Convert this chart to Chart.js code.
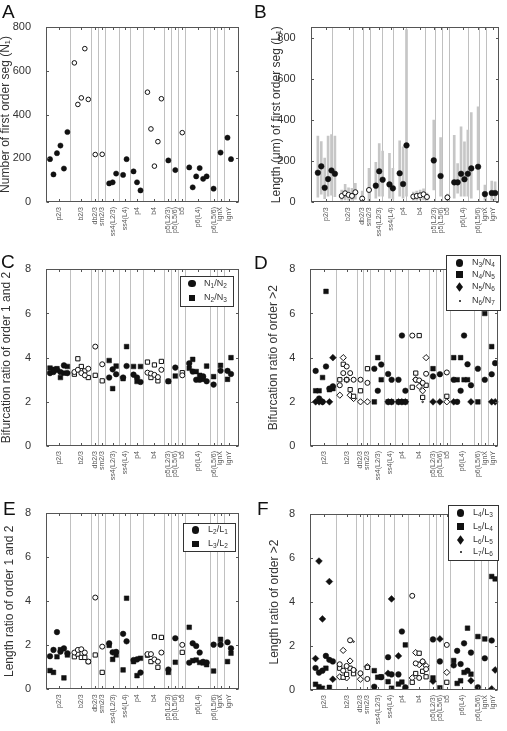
<!DOCTYPE html>
<html>
<head>
<meta charset="utf-8">
<script src="https://cdn.jsdelivr.net/npm/chart.js@4.4.1/dist/chart.umd.min.js"></script>
<style>
  body { margin: 0; background: #fff; width: 507px; height: 731px; position: relative; overflow: hidden;
         font-family: 'Liberation Sans', Arial, sans-serif; }
  .pane { position: absolute; }
  .letter { position: absolute; font-size: 19px; line-height: 19px; color: #111; will-change: transform; }
  .legend { position: absolute; border: 1px solid #333; background: #fff; box-sizing: border-box; }
  .mk { position: absolute; background: #111; }
  .lt { position: absolute; font-size: 9px; line-height: 10px; color: #333; white-space: nowrap;
        will-change: transform; }
  .lt sub { font-size: 6.5px; vertical-align: -2px; line-height: 0; }
</style>
</head>
<body>
<script>
const FONT = "'Liberation Sans', Arial, sans-serif";

// cell groups along the x axis
const groupLabels = ['p2/3', 'b2/3', 'db2/3', 'sm2/3', 'ss4(L2/3)', 'ss4(L4)', 'p4', 'b4',
                     'p5(L2/3)', 'p5(L5/6)', 'b5', 'p6(L4)', 'p6(L5/6)', 'lgnX', 'lgnY'];
const groupCenters = [3.5, 10, 14, 16, 19, 22.5, 26, 31, 35, 37, 39, 43.5, 48, 50, 52.5];
const separators = [7, 13, 15, 17, 21, 24, 28, 34, 36, 38, 40, 47, 49, 51];

// one entry per cell
const cellX = [1,2,3,4,5,6, 8,9,10,11,12, 14, 16, 18,19,20, 22,23, 25,26,27, 29,30,31,32,33,
               35, 37, 39, 41,42,43,44,45,46, 48, 50, 52,53];
const openCell = [0,0,0,0,0,0, 1,1,1,1,1, 1, 1, 0,0,0, 0,0, 0,0,0, 1,1,1,1,1,
                  0, 0, 1, 0,0,0,0,0,0, 0, 0, 0,0];

// A
const nFirst = [196,126,223,258,153,320, 636,446,476,701,469, 217, 218, 85,90,130, 124,196, 140,90,53,
                502,334,164,276,472, 190, 146, 317, 158,67,117,155,106,117, 61, 226, 294,196];
// B
const lFirst = [144,175,71,113,155,139, 31,44,36,31,49, 18, 60, 81,151,110, 87,68, 141,89,277,
                28,31,34,39,26, 204, 128, 24, 97,97,139,112,139,165, 173, 40, 45,45];
const lFirstLo = [25,40,18,30,35,28, 10,12,10,10,15, 5, 5, 20,30,30, 20,15, 30,20,30,
                  10,10,12,12,10, 60, 30, 8, 20,45,30,30,30,20, 60, 10, 10,10];
const lFirstHi = [322,295,215,322,330,322, 60,88,70,68,92, 55, 165, 194,286,249, 238,165, 299,270,840,
                  50,55,60,65,45, 400, 315, 40, 326,189,367,294,351,437, 464, 84, 103,100];
// C
const bifN1N2 = [3.3,3.35,3.45,3.35,3.65,3.3, 3.35,3.45,3.3,3.2,3.5, 4.5, 3.7, 3.1,3.47,3.25, 3.1,3.62,
                 3.23,3.1,2.9, 3.32,3.28,3.22,3.12,3.45, 2.93, 3.55, 3.2, 3.74,3.37,3.0,3.0,3.15,2.93,
                 2.78, 3.41, 3.4,3.26];
const bifN2N3 = [3.53,3.47,3.5,3.1,3.3,3.6, 3.25,3.95,3.6,3.4,3.1, 3.2, 2.95, 3.87,2.6,3.62, 3.05,4.5,
                 3.6,2.92,3.6, 3.8,3.1,3.67,2.95,3.83, 2.93, 3.17, 3.32, 3.52,3.92,3.37,3.2,3.02,3.62,
                 3.14, 3.65, 3.02,4.0];
// D
const bifN3N4 = [3.4,2.15,2.0,3.6,2.6,2.7, 2.75,3.3,3.6,3.3,3.0, 3.0, 2.86, 3.5,2.5,3.69, 3.26,3.0,
                 3.0,5.0,2.5, 5.0,3.0,2.97,2.86,3.27, 3.15, 3.25, 3.33, 3.0,2.0,2.5,5.0,3.7,2.75,
                 3.5, 3.0, 3.25,3.75];
const bifN4N5 = [2.5,2.5,3.1,7.0,2.55,2.6, 3.0,3.7,3.0,2.55,2.25, 2.5, 3.5, 2.0,4.0,3.0, 2.0,2.0,
                 2.0,2.0,2.0, 2.66,3.3,5.0,2.2,2.75, 3.5, null, 2.25, 4.0,3.0,4.0,3.0,3.0,null,
                 2.0, 6.0, 4.5,null];
const bifN5N6 = [2,2,2,null,2,4, 2.3,4.0,3.0,2.3,2.15, 2, 2, null,null,null, 2,2,
                 2,2,2, null,3.0,2.7,2.5,4.0, 2, 2, 2, 2,null,null,null,null,2,
                 null, null, 2,2];
const bifN6N7 = [2,null,2,null,null,null, null,null,null,null,null, null, null, null,null,null, null,null,
                 null,null,null, null,null,null,2.0,null, null, null, null, null,null,null,null,null,null,
                 null, null, null,null];
// E
const lenL2L1 = [1.5,1.79,2.6,1.71,1.86,1.64, 1.67,1.79,1.82,1.67,1.26, 4.17, 1.94, 2.09,1.68,1.7, 2.52,2.18,
                 1.33,1.36,0.76, 1.6,1.6,1.36,1.26,1.67, 0.9, 2.32, 2.02, 1.21,2.09,1.97,1.67,1.25,1.22,
                 2.03, 2.03, 2.14,1.86];
const lenL3L2 = [0.85,0.77,1.48,1.8,0.52,1.56, 1.48,1.6,1.45,1.45,1.26, 1.56, 0.77, 2.0,1.36,1.56, 0.88,4.14,
                 1.26,0.62,1.41, 1.55,1.26,2.39,1.0,2.36, 0.77, 1.23, 1.68, 2.82,1.3,1.33,1.22,1.2,1.12,
                 0.83, 2.27, 1.26,1.64];
// F
const lenL4L3 = [1.0,0.79,0.88,1.55,1.37,1.3, 1.17,0.88,1.09,2.26,0.91, 0.76, 0.5, 0.15,null,0.58, 1.49,0.71,
                 0.71,2.66,0.12, 4.28,1.21,0.55,1.3,0.95, 2.3, 1.3, 2.05, 1.12,1.78,1.18,2.12,0.88,1.7,
                 0.12, 1.44, 2.25,null];
const lenL5L4 = [0.26,0.15,0.08,0.99,0.12,null, 0.99,0.58,0.71,0.99,0.74, null, 1.03, 0.88,0.58,0.6, 0.38,0.08,
                 0.27,0.36,2.05, 0.35,0.75,1.67,0.85,0.6, 0.55, 0.1, 0.35, 1.34,0.3,0.42,0.8,2.81,0.72,
                 2.43, 2.32, 5.16,5.05];
const lenL6L5 = [1.43,5.86,3.23,null,4.93,0.49, 0.6,1.8,0.55,1.32,0.9, 0.49, 1.06, null,null,null, 0.76,4.14,
                 1.55,null,null, 0.55,1.7,1.15,1.28,1.1, 0.4, 2.32, 0.8, null,null,null,null,null,0.42,
                 null, null, 0.05,0.91];
const lenL7L6 = [null,null,null,null,null,null, null,null,null,null,2.2, null, null, null,null,null, null,null,
                 null,null,null, null,null,null,null,null, null, null, null, null,null,null,null,null,null,
                 null, null, null,null];

function split(values, open) {
  const out = [];
  cellX.forEach((x, i) => {
    if (values[i] !== null && !!openCell[i] === open) out.push({x: x, y: values[i]});
  });
  return out;
}

function pointSets(values, style, r) {
  return [
    {data: split(values, false), pointStyle: style, pointRadius: r, pointBackgroundColor: '#111',
     pointBorderColor: '#111', pointBorderWidth: 0.5, order: 0},
    {data: split(values, true), pointStyle: style, pointRadius: r - 0.3, pointBackgroundColor: '#fff',
     pointBorderColor: '#111', pointBorderWidth: 1, order: 0}
  ];
}

// box around the plot with small inward ticks
const boxPlugin = {
  id: 'box',
  afterDraw(chart) {
    const {ctx, chartArea: a, scales} = chart;
    const l = Math.round(a.left) + 0.5, r = Math.round(a.right) - 0.5;
    const t = Math.round(a.top) + 0.5, b = Math.round(a.bottom) - 0.5;
    ctx.save();
    ctx.strokeStyle = '#555';
    ctx.lineWidth = 1;
    ctx.strokeRect(l, t, r - l, b - t);
    ctx.beginPath();
    scales.y.ticks.forEach(tk => {
      const py = Math.round(scales.y.getPixelForValue(tk.value)) + 0.5;
      ctx.moveTo(l, py); ctx.lineTo(l + 2.5, py);
      ctx.moveTo(r, py); ctx.lineTo(r - 2.5, py);
    });
    groupCenters.forEach(v => {
      const px = Math.round(scales.x.getPixelForValue(v)) + 0.5;
      ctx.moveTo(px, b); ctx.lineTo(px, b - 2.5);
      ctx.moveTo(px, t); ctx.lineTo(px, t + 2.5);
    });
    ctx.stroke();
    ctx.restore();
  }
};

const xTickValues = separators.concat(groupCenters).sort((a, b) => a - b);
const TITLE_SIZE = 12;

function makePanel(p) {
  const wrap = document.createElement('div');
  wrap.className = 'pane';
  wrap.style.left = p.left + 'px';
  wrap.style.top = p.top + 'px';
  const canvas = document.createElement('canvas');
  canvas.width = p.w; canvas.height = p.h;
  canvas.style.width = p.w + 'px'; canvas.style.height = p.h + 'px';
  wrap.appendChild(canvas);
  document.body.appendChild(wrap);

  new Chart(canvas, {
    type: 'scatter',
    data: {datasets: p.sets},
    options: {
      responsive: false,
      animation: false,
      layout: {padding: {left: 0, top: p.area[1] - p.top, right: p.left + p.w - p.area[2], bottom: 0}},
      plugins: {legend: {display: false}, tooltip: {enabled: false}},
      scales: {
        x: {
          type: 'linear', min: p.xr[0], max: p.xr[1], offset: false,
          afterBuildTicks: s => { s.ticks = xTickValues.map(v => ({value: v})); },
          afterFit: s => { s.height = p.top + p.h - p.area[3]; },
          grid: {
            color: c => (c.tick && separators.includes(c.tick.value)) ? '#c0c0c0' : 'rgba(0,0,0,0)',
            lineWidth: 1, drawTicks: false
          },
          border: {display: false},
          ticks: {
            autoSkip: false, minRotation: 90, maxRotation: 90, padding: 5, color: '#555',
            font: {size: 7, family: FONT},
            callback: v => {
              const k = groupCenters.indexOf(v);
              return k >= 0 ? groupLabels[k] : '';
            }
          }
        },
        y: {
          min: 0, max: p.yMax,
          afterBuildTicks: s => { s.ticks = p.yTicks.map(v => ({value: v})); },
          afterFit: s => { s.width = p.area[0] - p.left; },
          grid: {display: false},
          border: {display: false},
          ticks: {padding: 7, color: '#333', font: {size: 11, family: FONT}},
          title: {display: true, text: p.title, color: '#333', font: {size: TITLE_SIZE, family: FONT},
                  padding: {top: p.titleX - TITLE_SIZE * 0.6, bottom: 0}}
        }
      }
    },
    plugins: [boxPlugin]
  });
}

const ratioTicks = [0, 2, 4, 6, 8];

makePanel({left: 0, top: 0, w: 250, h: 240, area: [46, 27, 239, 202], xr: [-0.15, 55.3],
  yMax: 800, yTicks: [0, 200, 400, 600, 800], title: 'Number of first order seg (N₁)', titleX: 5.5,
  sets: pointSets(nFirst, 'circle', 2.6)});

makePanel({left: 253, top: 0, w: 254, h: 240, area: [310.7, 27, 501.7, 202.3], xr: [-1.1, 54.2],
  yMax: 853, yTicks: [0, 200, 400, 600, 800], title: 'Length (μm) of first order seg (L₁)', titleX: 24,
  sets: pointSets(lFirst, 'circle', 2.8).concat([{
    type: 'bar', order: 1, grouped: false, barThickness: 2, backgroundColor: '#c6c6c6', borderWidth: 0,
    data: cellX.map((x, i) => ({x: x, y: [lFirstLo[i], lFirstHi[i]]}))
  }])});

makePanel({left: 0, top: 240, w: 250, h: 240, area: [46, 269.3, 239, 446], xr: [-0.15, 55.3],
  yMax: 8, yTicks: ratioTicks, title: 'Bifurcation ratio of order 1 and 2', titleX: 6.7,
  sets: pointSets(bifN1N2, 'circle', 2.8).concat(pointSets(bifN2N3, 'rect', 3.3))});

makePanel({left: 253, top: 240, w: 254, h: 240, area: [310.3, 269.3, 500, 446], xr: [-0.55, 53.95],
  yMax: 8, yTicks: ratioTicks, title: 'Bifurcation ratio of order >2', titleX: 21,
  sets: pointSets(bifN3N4, 'circle', 2.8).concat(pointSets(bifN4N5, 'rect', 3.3))
        .concat(pointSets(bifN5N6, 'rectRot', 3.4)).concat(pointSets(bifN6N7, 'circle', 1.1))});

makePanel({left: 0, top: 480, w: 250, h: 251, area: [46, 513.3, 239, 689.3], xr: [-0.15, 55.3],
  yMax: 8, yTicks: ratioTicks, title: 'Length ratio of order 1 and 2', titleX: 9.5,
  sets: pointSets(lenL2L1, 'circle', 2.8).concat(pointSets(lenL3L2, 'rect', 3.3))});

makePanel({left: 253, top: 480, w: 254, h: 251, area: [310, 514, 500, 690], xr: [-0.6, 53.85],
  yMax: 8, yTicks: ratioTicks, title: 'Length ratio of order >2', titleX: 22,
  sets: pointSets(lenL4L3, 'circle', 2.8).concat(pointSets(lenL5L4, 'rect', 3.3))
        .concat(pointSets(lenL6L5, 'rectRot', 3.4)).concat(pointSets(lenL7L6, 'circle', 1.1))});

// panel letters
[['A', 2, 2], ['B', 254, 2], ['C', 1, 252], ['D', 254, 253], ['E', 3, 499], ['F', 257, 499]].forEach(d => {
  const el = document.createElement('div');
  el.className = 'letter';
  el.textContent = d[0];
  el.style.left = d[1] + 'px';
  el.style.top = d[2] + 'px';
  document.body.appendChild(el);
});

// legends
function marker(shape, cx, cy) {
  const el = document.createElement('div');
  el.className = 'mk';
  let w = 7.5, h = 7.5;
  if (shape === 'rect') { w = 6.5; h = 6.5; }
  if (shape === 'diamond') { w = 7; h = 9.5; el.style.clipPath = 'polygon(50% 0, 100% 50%, 50% 100%, 0 50%)'; }
  if (shape === 'dot') { w = 2; h = 2; }
  if (shape === 'circle' || shape === 'dot') el.style.borderRadius = '50%';
  el.style.width = w + 'px'; el.style.height = h + 'px';
  el.style.left = (cx - w / 2) + 'px'; el.style.top = (cy - h / 2) + 'px';
  document.body.appendChild(el);
}

function legend(box, mx, tx, rows) {
  const el = document.createElement('div');
  el.className = 'legend';
  el.style.left = box[0] + 'px'; el.style.top = box[1] + 'px';
  el.style.width = box[2] + 'px'; el.style.height = box[3] + 'px';
  document.body.appendChild(el);
  rows.forEach(r => {
    marker(r[0], mx, r[1]);
    const t = document.createElement('div');
    t.className = 'lt';
    t.innerHTML = r[2];
    t.style.left = tx + 'px';
    t.style.top = (r[1] - 6) + 'px';
    document.body.appendChild(t);
  });
}

legend([180, 276, 54, 31], 192, 204, [
  ['circle', 283.5, 'N<sub>1</sub>/N<sub>2</sub>'],
  ['rect', 298, 'N<sub>2</sub>/N<sub>3</sub>']]);
legend([446, 255, 55, 56], 459.5, 471.5, [
  ['circle', 263, 'N<sub>3</sub>/N<sub>4</sub>'],
  ['rect', 274.5, 'N<sub>4</sub>/N<sub>5</sub>'],
  ['diamond', 287, 'N<sub>5</sub>/N<sub>6</sub>'],
  ['dot', 300.5, 'N<sub>6</sub>/N<sub>7</sub>']]);
legend([183, 522.7, 53, 29], 195.7, 207.5, [
  ['circle', 530, 'L<sub>2</sub>/L<sub>1</sub>'],
  ['rect', 544, 'L<sub>3</sub>/L<sub>2</sub>']]);
legend([448, 505, 51, 56], 460.5, 473, [
  ['circle', 513, 'L<sub>4</sub>/L<sub>3</sub>'],
  ['rect', 526.5, 'L<sub>5</sub>/L<sub>4</sub>'],
  ['diamond', 540, 'L<sub>6</sub>/L<sub>5</sub>'],
  ['dot', 551.5, 'L<sub>7</sub>/L<sub>6</sub>']]);
</script>
</body>
</html>
